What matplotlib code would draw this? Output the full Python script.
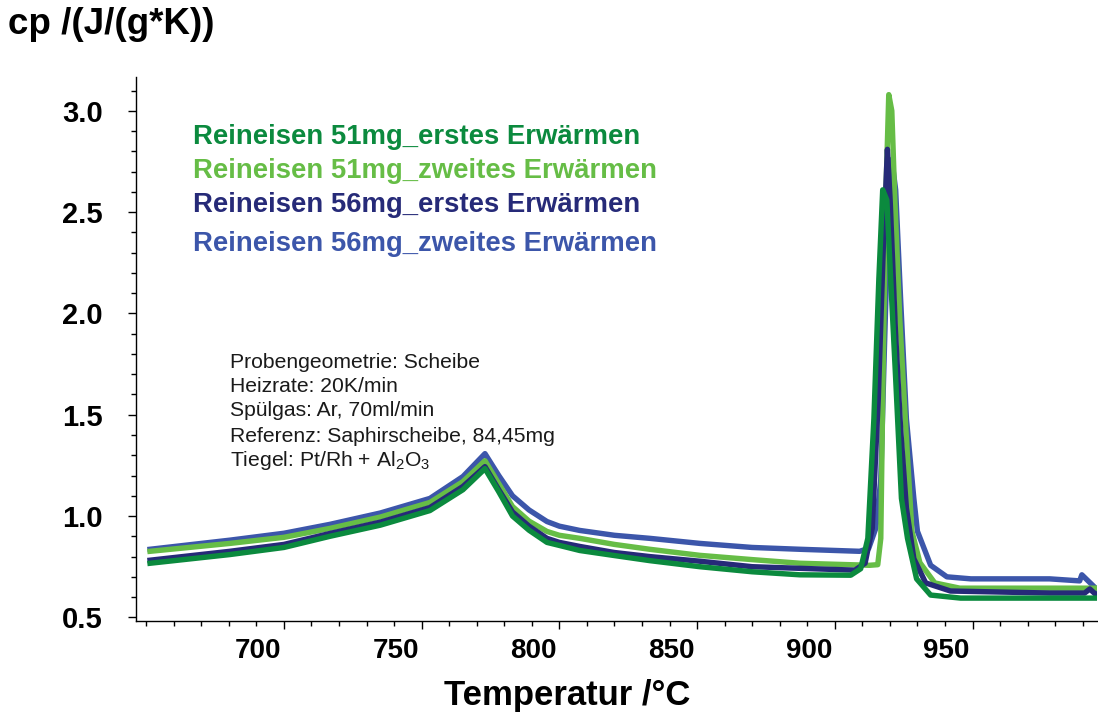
import matplotlib
matplotlib.use("Agg")
import matplotlib.pyplot as plt
import matplotlib.transforms as mtransforms
from matplotlib.ticker import MultipleLocator

# temperature in degC, cp in J/(g*K)
t_51_1 = [651.4, 680.4, 700.0, 716.7, 735.0, 753.0, 765.0, 773.0, 778.0, 783.0, 789.0, 795.5,
          800.0, 807.4, 820.0, 832.8, 851.0, 870.0, 887.3, 905.8, 909.4, 912.0, 914.2, 916.0,
          917.4, 918.9, 920.3, 922.1, 924.2, 926.4, 929.7, 934.8, 945.7, 978.0, 995.0]
cp_51_1 = [0.767, 0.81, 0.845, 0.90, 0.955, 1.027, 1.13, 1.234, 1.12, 1.0, 0.93, 0.87,
           0.855, 0.83, 0.805, 0.78, 0.75, 0.725, 0.71, 0.708, 0.74, 0.89, 1.48, 2.17,
           2.61, 2.56, 2.17, 1.68, 1.087, 0.89, 0.69, 0.61, 0.595, 0.595, 0.595]

t_51_2 = [651.4, 680.4, 700.0, 716.7, 735.0, 753.0, 765.0, 773.0, 778.0, 783.0, 789.0, 795.5,
          800.0, 807.4, 820.0, 832.8, 851.0, 870.0, 887.3, 912.7, 915.6, 916.7, 917.4, 918.5,
          919.6, 920.7, 921.8, 923.6, 925.8, 928.0, 930.9, 936.3, 945.4, 978.0, 995.0]
cp_51_2 = [0.826, 0.865, 0.895, 0.939, 0.995, 1.067, 1.17, 1.273, 1.16, 1.047, 0.975, 0.924,
           0.905, 0.89, 0.86, 0.836, 0.806, 0.785, 0.767, 0.757, 0.76, 0.89, 1.58, 2.56,
           3.08, 3.0, 2.56, 1.97, 1.43, 0.925, 0.77, 0.67, 0.644, 0.644, 0.644]

t_56_1 = [651.4, 680.4, 700.0, 716.7, 735.0, 753.0, 765.0, 773.0, 778.0, 783.0, 789.0, 795.5,
          800.0, 807.4, 820.0, 832.8, 851.0, 870.0, 887.3, 907.3, 911.0, 913.6, 915.8, 917.6,
          919.1, 920.1, 922.0, 923.9, 926.0, 928.7, 933.0, 942.0, 978.0, 990.7, 992.6, 995.0]
cp_56_1 = [0.782, 0.826, 0.86, 0.914, 0.97, 1.042, 1.146, 1.244, 1.13, 1.02, 0.95, 0.89,
           0.87, 0.85, 0.82, 0.80, 0.777, 0.75, 0.742, 0.733, 0.767, 0.94, 1.58, 2.32,
           2.81, 2.56, 1.92, 1.43, 1.04, 0.79, 0.67, 0.63, 0.62, 0.62, 0.64, 0.61]

t_56_2 = [651.4, 680.4, 700.0, 716.7, 735.0, 753.0, 765.0, 773.0, 778.0, 783.0, 789.0, 795.5,
          800.0, 807.4, 820.0, 832.8, 851.0, 870.0, 887.3, 909.0, 912.3, 914.9, 916.7, 918.0,
          919.6, 920.7, 922.1, 923.9, 926.0, 928.7, 930.0, 934.8, 940.7, 949.4, 978.0, 988.9,
          989.7, 995.0]
cp_56_2 = [0.836, 0.881, 0.915, 0.959, 1.015, 1.087, 1.195, 1.308, 1.20, 1.10, 1.03, 0.973,
           0.95, 0.929, 0.905, 0.89, 0.865, 0.845, 0.836, 0.826, 0.84, 0.94, 1.18, 1.82,
           2.56, 2.76, 2.61, 2.07, 1.48, 1.087, 0.925, 0.757, 0.70, 0.69, 0.69, 0.68,
           0.71, 0.64]

series_names = ["Reineisen 51mg_erstes Erwärmen", "Reineisen 51mg_zweites Erwärmen",
                "Reineisen 56mg_erstes Erwärmen", "Reineisen 56mg_zweites Erwärmen"]
series_colors = ["#0b8a3e", "#66bd46", "#262a78", "#3c56aa"]

info_lines = ["Probengeometrie: Scheibe", "Heizrate: 20K/min", "Spülgas: Ar, 70ml/min",
              "Referenz: Saphirscheibe, 84,45mg", r"Tiegel: Pt/Rh + Al$_\mathregular{2}$O$_\mathregular{3}$"]


def main():
    plt.rcParams["font.family"] = ["Liberation Sans", "DejaVu Sans"]
    plt.rcParams["mathtext.fontset"] = "custom"
    plt.rcParams["mathtext.rm"] = "Liberation Sans"

    fig = plt.figure(figsize=(10.98, 7.17), dpi=100)
    ax = fig.add_axes([136 / 1098, 96 / 717, 961 / 1098, 544 / 717])

    # draw order: blue, light green, navy, dark green
    ax.plot(t_56_2, cp_56_2, color=series_colors[3], lw=3.9, solid_joinstyle="round")
    ax.plot(t_51_2, cp_51_2, color=series_colors[1], lw=3.9, solid_joinstyle="round")
    ax.plot(t_56_1, cp_56_1, color=series_colors[2], lw=3.9, solid_joinstyle="round")
    ax.plot(t_51_1, cp_51_1, color=series_colors[0], lw=3.9, solid_joinstyle="round")

    ax.set_xlim(646.3, 995.2)
    ax.set_ylim(0.482, 3.167)

    for side in ["top", "right"]:
        ax.spines[side].set_visible(False)
    for side in ["left", "bottom"]:
        ax.spines[side].set_linewidth(1.0)

    ax.xaxis.set_minor_locator(MultipleLocator(10))
    ax.yaxis.set_minor_locator(MultipleLocator(0.1))
    ax.set_xticks([700, 750, 800, 850, 900, 950])
    ax.set_yticks([0.5, 1.0, 1.5, 2.0, 2.5, 3.0])
    ax.set_yticklabels(["0.5", "1.0", "1.5", "2.0", "2.5", "3.0"])

    ax.tick_params(axis="x", which="major", direction="out", length=6, width=1,
                   pad=6, labelsize=20)
    ax.tick_params(axis="y", which="major", direction="out", length=6, width=1,
                   pad=18, labelsize=21)
    ax.tick_params(which="minor", direction="out", length=3.5, width=1)
    for lab in ax.get_xticklabels() + ax.get_yticklabels():
        lab.set_fontweight("bold")

    # x tick labels sit left of their ticks in the original
    shift = mtransforms.ScaledTranslation(-26 / 100, 0, fig.dpi_scale_trans)
    for lab in ax.get_xticklabels():
        lab.set_transform(lab.get_transform() + shift)

    fig.text(8 / 1098, 1 - 24 / 717, "cp /(J/(g*K))", fontsize=26.5, fontweight="bold",
             ha="left", va="center")
    fig.text(567 / 1098, 1 - 696 / 717, "Temperatur /°C", fontsize=25, fontweight="bold",
             ha="center", va="center")

    legend_y = [137, 171, 205, 244]
    for name, col, y in zip(series_names, series_colors, legend_y):
        fig.text(193 / 1098, 1 - y / 717, name, color=col, fontsize=19.8,
                 fontweight="bold", ha="left", va="center")

    info_y = [362, 386, 410, 436, 460]
    for line, y in zip(info_lines, info_y):
        fig.text(230 / 1098, 1 - y / 717, line, color="#1a1a1a", fontsize=15.2,
                 ha="left", va="center")

    fig.savefig("out.png", dpi=100)
    plt.close(fig)


if __name__ == "__main__":
    main()
